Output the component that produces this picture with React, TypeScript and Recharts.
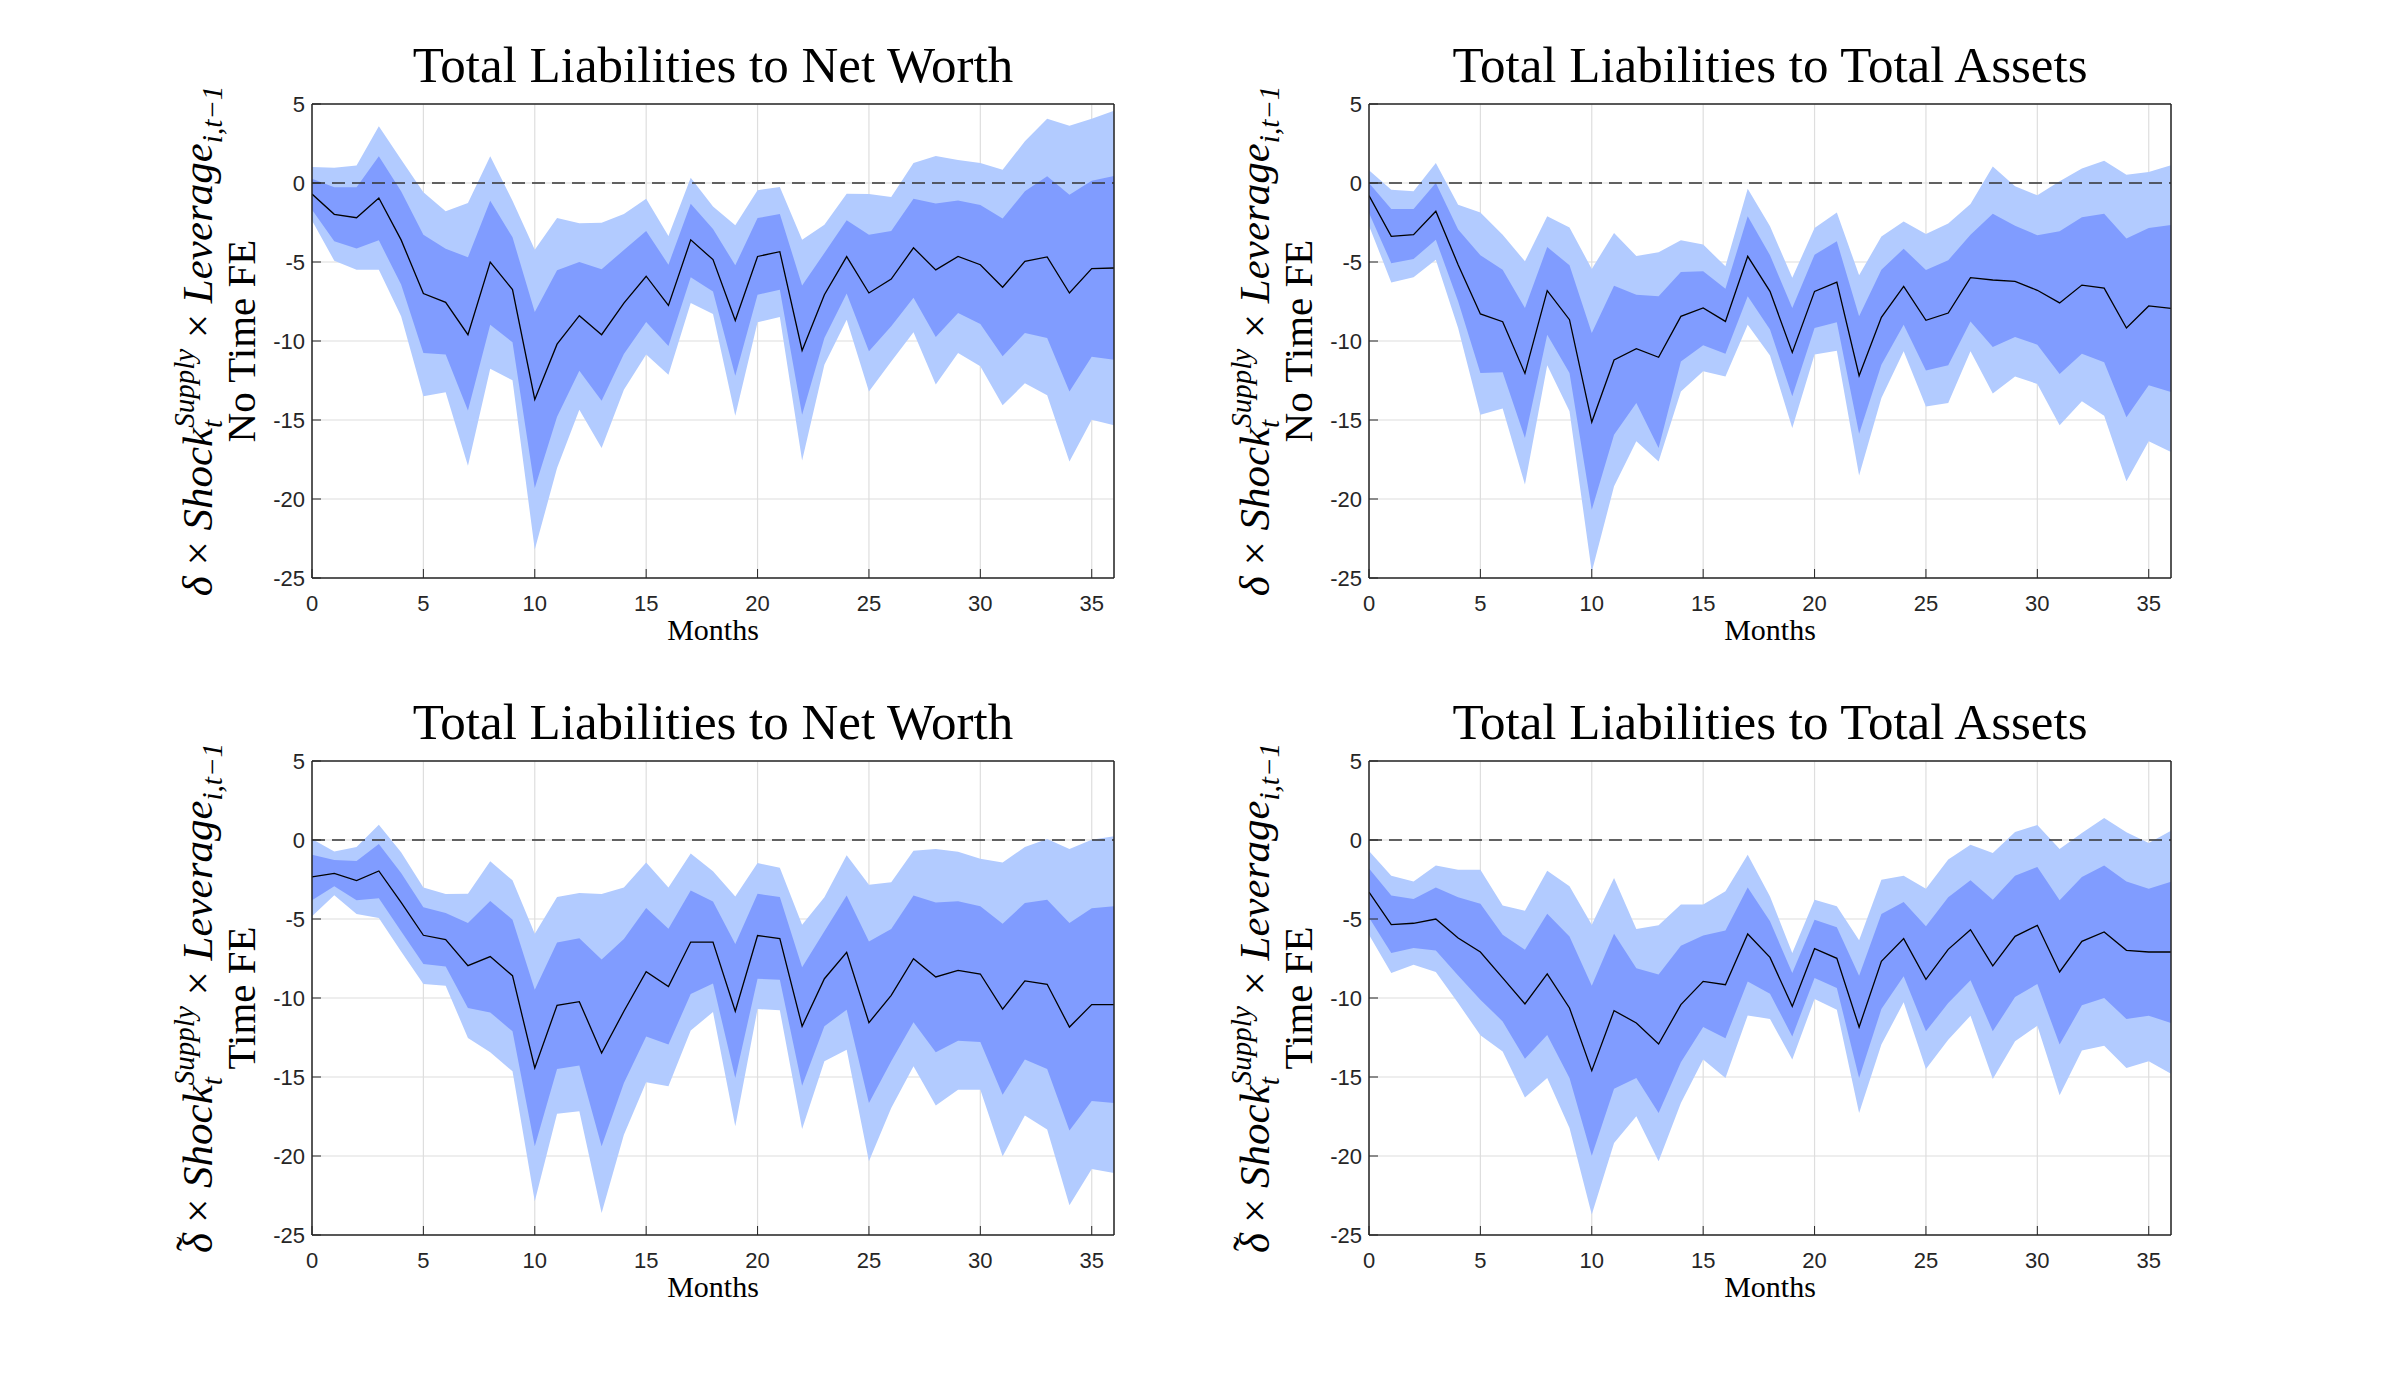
import React from "react";
import {
  ComposedChart,
  Area,
  Line,
  XAxis,
  YAxis,
  CartesianGrid,
  ReferenceLine,
} from "recharts";

const months = [
  0, 1, 2, 3, 4, 5, 6, 7, 8, 9, 10, 11, 12, 13, 14, 15, 16, 17, 18, 19, 20, 21,
  22, 23, 24, 25, 26, 27, 28, 29, 30, 31, 32, 33, 34, 35, 36,
];
const xTicks = [0, 5, 10, 15, 20, 25, 30, 35];
const yTicks = [-25, -20, -15, -10, -5, 0, 5];

// top left: liabilities / net worth, no time FE
const nwNoFeEst = [-0.7, -1.98, -2.2, -0.95, -3.6, -7.0, -7.55, -9.6, -5.0, -6.75, -13.7, -10.2, -8.4, -9.6, -7.6, -5.9, -7.75, -3.6, -4.85, -8.7, -4.65, -4.35, -10.6, -7.07, -4.66, -6.96, -6.08, -4.1, -5.5, -4.65, -5.17, -6.6, -4.96, -4.68, -6.96, -5.42, -5.38];
const nwNoFeDarkHi = [0.27, -0.27, -0.27, 1.69, -0.53, -3.27, -4.16, -4.7, -1.12, -3.44, -8.16, -5.53, -5.0, -5.46, -4.24, -3.04, -5.17, -1.31, -2.91, -5.21, -2.22, -1.96, -6.48, -4.43, -2.36, -3.27, -3.04, -0.99, -1.29, -1.1, -1.39, -2.24, -0.53, 0.42, -0.74, 0.15, 0.44];
const nwNoFeDarkLo = [-1.69, -3.69, -4.14, -3.63, -6.43, -10.76, -10.86, -14.4, -8.97, -10.08, -19.3, -14.8, -11.88, -13.78, -10.82, -8.8, -10.32, -5.97, -6.86, -12.2, -7.07, -6.75, -14.66, -9.81, -7.0, -10.65, -9.07, -7.26, -9.75, -8.23, -8.92, -10.97, -9.49, -9.81, -13.19, -11.0, -11.18];
const nwNoFeLightHi = [1.01, 0.97, 1.1, 3.59, 1.48, -0.59, -1.79, -1.27, 1.69, -1.12, -4.22, -2.22, -2.55, -2.51, -1.96, -0.99, -3.35, 0.34, -1.48, -2.68, -0.46, -0.25, -3.59, -2.64, -0.68, -0.7, -0.89, 1.27, 1.71, 1.46, 1.27, 0.84, 2.64, 4.07, 3.63, 4.07, 4.58];
const nwNoFeLightLo = [-2.38, -4.92, -5.49, -5.49, -8.44, -13.5, -13.25, -17.9, -11.75, -12.49, -23.2, -18.04, -14.35, -16.77, -13.08, -10.86, -12.13, -7.6, -8.29, -14.73, -8.82, -8.48, -17.57, -11.5, -8.65, -13.19, -11.29, -9.45, -12.76, -10.76, -11.6, -14.07, -12.68, -13.44, -17.62, -14.98, -15.34];

// top right: liabilities / assets, no time FE
const taNoFeEst = [-0.8, -3.38, -3.27, -1.79, -5.17, -8.29, -8.78, -12.05, -6.81, -8.65, -15.13, -11.2, -10.49, -11.03, -8.44, -7.91, -8.76, -4.64, -6.86, -10.72, -6.86, -6.27, -12.2, -8.5, -6.54, -8.69, -8.23, -5.99, -6.14, -6.22, -6.79, -7.59, -6.46, -6.65, -9.18, -7.78, -7.93];
const taNoFeDarkHi = [0.0, -1.65, -1.65, 0.0, -2.95, -4.58, -5.49, -7.91, -4.05, -5.21, -9.49, -6.5, -7.07, -7.17, -5.63, -5.59, -6.69, -2.11, -4.58, -7.91, -4.54, -3.69, -8.44, -5.49, -4.16, -5.51, -4.89, -3.27, -1.94, -2.7, -3.31, -3.06, -2.17, -1.94, -3.52, -2.85, -2.66];
const taNoFeDarkLo = [-1.9, -5.08, -4.81, -3.59, -7.49, -12.03, -11.98, -16.14, -9.6, -12.03, -20.68, -15.93, -13.92, -16.77, -11.29, -10.27, -10.8, -7.17, -9.28, -13.5, -9.18, -8.82, -15.87, -11.5, -8.97, -11.86, -11.54, -8.76, -10.38, -9.75, -10.23, -12.09, -10.8, -11.35, -14.83, -12.8, -13.23];
const taNoFeLightHi = [0.8, -0.42, -0.53, 1.27, -1.37, -1.86, -3.27, -4.96, -2.11, -2.81, -5.44, -3.16, -4.62, -4.39, -3.63, -3.9, -5.27, -0.36, -2.74, -6.0, -2.85, -1.86, -5.84, -3.38, -2.43, -3.23, -2.57, -1.33, 1.05, -0.21, -0.78, 0.11, 0.91, 1.41, 0.53, 0.7, 1.12];
const taNoFeLightLo = [-2.7, -6.29, -5.97, -4.85, -9.18, -14.66, -14.28, -19.09, -11.54, -14.45, -24.6, -19.2, -16.35, -17.62, -13.19, -11.92, -12.24, -8.97, -10.91, -15.5, -10.86, -10.61, -18.52, -13.61, -10.65, -14.14, -13.92, -10.65, -13.33, -12.24, -12.72, -15.34, -13.82, -14.73, -18.88, -16.35, -17.03];

// bottom left: liabilities / net worth, time FE
const nwFeEst = [-2.34, -2.11, -2.57, -1.96, -3.95, -6.03, -6.31, -7.95, -7.38, -8.59, -14.43, -10.46, -10.23, -13.48, -10.84, -8.33, -9.28, -6.46, -6.46, -10.84, -6.05, -6.24, -11.79, -8.78, -7.11, -11.56, -9.83, -7.51, -8.67, -8.25, -8.48, -10.7, -8.92, -9.13, -11.84, -10.42, -10.42];
const nwFeDarkHi = [-0.93, -1.27, -1.33, -0.25, -2.09, -4.26, -4.62, -5.25, -3.86, -5.04, -9.47, -6.48, -6.22, -7.57, -6.27, -4.3, -5.61, -3.19, -3.9, -6.58, -3.4, -3.61, -8.06, -5.78, -3.52, -6.43, -5.63, -3.52, -3.95, -3.88, -4.2, -5.3, -3.99, -3.78, -5.25, -4.32, -4.2];
const nwFeDarkLo = [-3.82, -2.93, -3.82, -3.69, -5.78, -7.85, -8.0, -10.63, -10.91, -12.11, -19.39, -14.49, -14.28, -19.39, -15.38, -12.43, -12.95, -9.75, -9.09, -15.06, -8.78, -8.84, -15.55, -11.79, -10.74, -16.65, -14.01, -11.54, -13.44, -12.7, -12.78, -16.12, -13.9, -14.49, -18.39, -16.52, -16.65];
const nwFeLightHi = [0.06, -0.72, -0.44, 0.97, -0.78, -3.0, -3.42, -3.4, -1.35, -2.55, -5.93, -3.61, -3.35, -3.42, -3.0, -1.43, -3.0, -0.86, -1.98, -3.57, -1.46, -1.75, -5.36, -3.63, -0.97, -2.83, -2.68, -0.68, -0.57, -0.74, -1.18, -1.43, -0.44, 0.06, -0.57, 0.02, 0.23];
const nwFeLightLo = [-4.83, -3.5, -4.68, -4.94, -7.05, -9.11, -9.22, -12.53, -13.44, -14.64, -22.87, -17.33, -17.17, -23.61, -18.65, -15.34, -15.59, -12.05, -10.89, -18.12, -10.7, -10.78, -18.29, -14.01, -13.27, -20.34, -16.96, -14.32, -16.81, -15.8, -15.8, -20.02, -17.43, -18.33, -23.12, -20.82, -21.08];

// bottom right: liabilities / assets, time FE
const taFeEst = [-3.3, -5.36, -5.27, -5.0, -6.2, -7.09, -8.73, -10.38, -8.48, -10.63, -14.6, -10.8, -11.58, -12.91, -10.42, -8.95, -9.16, -5.95, -7.43, -10.53, -6.88, -7.49, -11.84, -7.68, -6.24, -8.82, -6.92, -5.68, -7.97, -6.1, -5.4, -8.35, -6.41, -5.82, -6.98, -7.09, -7.09];
const taFeDarkHi = [-1.8, -3.52, -3.73, -3.0, -3.63, -4.03, -5.99, -6.94, -4.66, -6.1, -9.22, -5.93, -8.12, -8.52, -6.69, -6.05, -5.72, -3.0, -5.15, -8.42, -5.04, -5.53, -8.59, -4.68, -3.92, -5.46, -3.63, -2.55, -3.78, -2.26, -1.71, -3.82, -2.34, -1.62, -2.62, -3.08, -2.64];
const taFeDarkLo = [-4.9, -7.15, -6.84, -7.0, -8.57, -10.11, -11.48, -13.84, -12.34, -15.06, -19.98, -15.74, -15.06, -17.28, -14.07, -11.84, -12.55, -8.95, -9.73, -12.43, -8.73, -9.37, -15.06, -10.7, -8.63, -12.11, -10.32, -8.88, -12.11, -9.94, -9.11, -12.95, -10.46, -10.0, -11.33, -11.12, -11.58];
const taFeLightHi = [-0.7, -2.26, -2.62, -1.62, -1.88, -1.88, -4.14, -4.47, -1.94, -2.93, -5.36, -2.41, -5.63, -5.4, -4.09, -4.09, -3.25, -0.93, -3.57, -7.15, -3.78, -4.2, -6.35, -2.51, -2.26, -3.08, -1.24, -0.3, -0.82, 0.51, 0.95, -0.57, 0.44, 1.39, 0.49, -0.19, 0.59];
const taFeLightLo = [-6.0, -8.42, -7.89, -8.35, -10.32, -12.36, -13.38, -16.29, -15.06, -18.23, -23.71, -19.18, -17.49, -20.34, -16.65, -13.9, -15.06, -11.1, -11.33, -13.9, -10.06, -10.74, -17.28, -12.95, -10.27, -14.49, -12.64, -11.12, -15.13, -12.74, -11.75, -16.16, -13.33, -13.02, -14.43, -14.01, -14.79];

const LIGHT = "#b2cbff";
const DARK = "#809cff";
const AXIS = "#262626";

// plot-area geometry inside each chart
const PLOT_W = 802;
const PLOT_H = 474;
const OFF_X = 70;
const OFF_Y = 11;

const build = (est, dLo, dHi, lLo, lHi) =>
  months.map((m, i) => ({
    m,
    est: est[i],
    dark: [dLo[i], dHi[i]],
    light: [lLo[i], lHi[i]],
  }));

const panels = [
  {
    title: "Total Liabilities to Net Worth",
    fe: "No Time FE",
    tilde: false,
    left: 312,
    top: 104,
    data: build(nwNoFeEst, nwNoFeDarkLo, nwNoFeDarkHi, nwNoFeLightLo, nwNoFeLightHi),
  },
  {
    title: "Total Liabilities to Total Assets",
    fe: "No Time FE",
    tilde: false,
    left: 1369,
    top: 104,
    data: build(taNoFeEst, taNoFeDarkLo, taNoFeDarkHi, taNoFeLightLo, taNoFeLightHi),
  },
  {
    title: "Total Liabilities to Net Worth",
    fe: "Time FE",
    tilde: true,
    left: 312,
    top: 761,
    data: build(nwFeEst, nwFeDarkLo, nwFeDarkHi, nwFeLightLo, nwFeLightHi),
  },
  {
    title: "Total Liabilities to Total Assets",
    fe: "Time FE",
    tilde: true,
    left: 1369,
    top: 761,
    data: build(taFeEst, taFeDarkLo, taFeDarkHi, taFeLightLo, taFeLightHi),
  },
];

const tickStyle = { fontFamily: "Liberation Sans, Arial, sans-serif", fontSize: 22, fill: AXIS };

const Panel = ({ p }) => (
  <div style={{ position: "absolute", left: p.left - OFF_X, top: p.top - OFF_Y }}>
    <ComposedChart
      width={OFF_X + PLOT_W + 11}
      height={OFF_Y + PLOT_H + 50}
      data={p.data}
      margin={{ top: 10, right: 10, bottom: 10, left: 10 }}
    >
      <CartesianGrid stroke="#dedede" strokeWidth={1.2} />
      <XAxis
        dataKey="m"
        type="number"
        domain={[0, 36]}
        ticks={xTicks}
        interval={0}
        height={40}
        tickSize={-9}
        tickMargin={26}
        tick={tickStyle}
        stroke={AXIS}
        axisLine={{ stroke: AXIS, strokeWidth: 1.5 }}
        allowDataOverflow
      />
      <XAxis
        xAxisId="top"
        orientation="top"
        dataKey="m"
        type="number"
        domain={[0, 36]}
        ticks={xTicks}
        interval={0}
        height={1}
        tickSize={-9}
        tick={false}
        stroke={AXIS}
        axisLine={{ stroke: AXIS, strokeWidth: 1.5 }}
      />
      <YAxis
        type="number"
        domain={[-25, 5]}
        ticks={yTicks}
        interval={0}
        width={60}
        tickSize={-9}
        tickMargin={16}
        tick={tickStyle}
        stroke={AXIS}
        axisLine={{ stroke: AXIS, strokeWidth: 1.5 }}
        allowDataOverflow
      />
      <YAxis
        yAxisId="right"
        orientation="right"
        type="number"
        domain={[-25, 5]}
        ticks={yTicks}
        interval={0}
        width={1}
        tickSize={-9}
        tick={false}
        stroke={AXIS}
        axisLine={{ stroke: AXIS, strokeWidth: 1.5 }}
      />
      <Area
        dataKey="light"
        type="linear"
        stroke="none"
        fill={LIGHT}
        fillOpacity={1}
        isAnimationActive={false}
      />
      <Area
        dataKey="dark"
        type="linear"
        stroke="none"
        fill={DARK}
        fillOpacity={1}
        isAnimationActive={false}
      />
      <ReferenceLine y={0} stroke="#333" strokeWidth={1.6} strokeDasharray="13 7" />
      <Line
        dataKey="est"
        type="linear"
        stroke="#000"
        strokeWidth={1.3}
        dot={false}
        activeDot={false}
        isAnimationActive={false}
      />
    </ComposedChart>
  </div>
);

const serif = "Liberation Serif, Times New Roman, serif";

const Labels = ({ p }) => {
  const cx = p.left + PLOT_W / 2;
  const cy = p.top + PLOT_H / 2;
  const b1 = p.left - 100;
  const b2 = p.left - 57;
  return (
    <g>
      <text x={cx} y={p.top - 22} textAnchor="middle" fontFamily={serif} fontSize={51} fill="#000">
        {p.title}
      </text>
      <text x={cx} y={p.top + PLOT_H + 62} textAnchor="middle" fontFamily={serif} fontSize={30} fill="#000">
        Months
      </text>
      <g transform={`translate(${b1}, ${cy}) rotate(-90)`}>
        <text x={0} y={0} textAnchor="middle" fontFamily={serif} fontSize={43} fill="#000">
          <tspan fontStyle="italic">{"\u03b4"}</tspan>
          {p.tilde ? (
            <tspan dx={-18} dy={-7}>{"\u02dc"}</tspan>
          ) : null}
          <tspan dx={p.tilde ? 3 : 0} dy={p.tilde ? 7 : 0}> {"\u00d7"} </tspan>
          <tspan fontStyle="italic">Shock</tspan>
          <tspan fontStyle="italic" fontSize={29} dy={10}>t</tspan>
          <tspan fontStyle="italic" fontSize={29} dx={-8} dy={-28}>Supply</tspan>
          <tspan dy={18}> {"\u00d7"} </tspan>
          <tspan fontStyle="italic">Leverage</tspan>
          <tspan fontStyle="italic" fontSize={29} dy={10}>i,t{"\u2212"}1</tspan>
        </text>
      </g>
      <g transform={`translate(${b2}, ${cy}) rotate(-90)`}>
        <text x={0} y={0} textAnchor="middle" fontFamily={serif} fontSize={41} fill="#000">
          {p.fe}
        </text>
      </g>
    </g>
  );
};

export default function App() {
  return (
    <div
      style={{
        position: "absolute",
        left: 0,
        top: 0,
        width: 2400,
        height: 1388,
        background: "#fff",
        overflow: "hidden",
      }}
    >
      {panels.map((p, i) => (
        <Panel key={i} p={p} />
      ))}
      <svg
        width={2400}
        height={1388}
        style={{ position: "absolute", left: 0, top: 0, pointerEvents: "none" }}
      >
        {panels.map((p, i) => (
          <Labels key={i} p={p} />
        ))}
      </svg>
    </div>
  );
}
